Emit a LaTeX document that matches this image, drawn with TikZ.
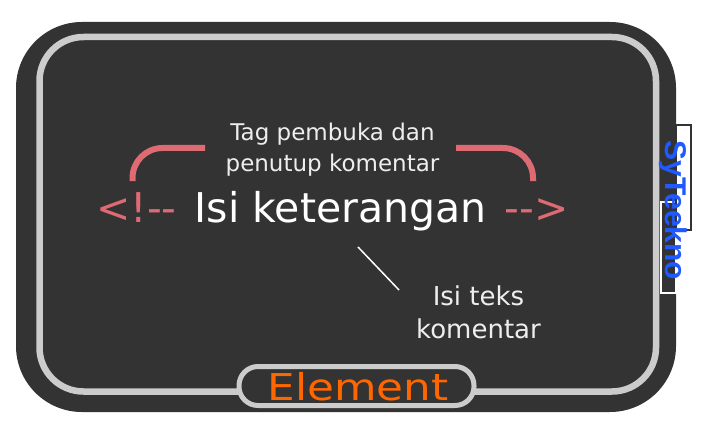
\documentclass[tikz,border=0pt]{standalone}
\usepackage{fontspec}
\newfontfamily\dv{DejaVu Sans}
\newfontfamily\lsb{Liberation Sans}
\definecolor{dark}{HTML}{333333}
\definecolor{lgray}{HTML}{CCCCCC}
\definecolor{pinkc}{RGB}{222,106,115}
\definecolor{txtw}{HTML}{EEEEEE}
\definecolor{orng}{HTML}{FF6600}
\definecolor{blu}{RGB}{30,90,255}
\tikzset{
  lbl/.style={inner sep=0pt, anchor=base, text=txtw},
  big/.style={inner sep=0pt, font=\dv\fontsize{41}{48}\selectfont},
  brk/.style={draw=pinkc, line width=6pt, rounded corners=30pt},
}
\begin{document}
\begin{tikzpicture}[x=1pt,y=-1pt]
\useasboundingbox (0,0) rectangle (708,422);
% frames
\fill[dark, rounded corners=66pt] (16,22) rectangle (676,412);
\draw[lgray, line width=6.5pt, rounded corners=44pt] (39.5,37) rectangle (656,391.5);
\draw[lgray, fill=dark, line width=5pt, rounded corners=19pt] (239,366.5) rectangle (474,405.5);
\draw[white, line width=1.5pt] (661,202) rectangle (676,293);
\draw[dark, line width=1.5pt] (676,125) rectangle (691,230);
% texts
\node[lbl, font=\dv\fontsize{23}{30}\selectfont] (tag1) at (332.5,141) {Tag pembuka dan};
\node[lbl, font=\dv\fontsize{23}{30}\selectfont] (tag2) at (332.5,171) {penutup komentar};
\node[big, anchor=base west, text=pinkc] (open) at (96,222) {<!--};
\node[big, anchor=base, text=white] (main) at (340.5,222) {Isi keterangan};
\node[big, anchor=base east, text=pinkc] (close) at (569,222) {-->};
\node[lbl, font=\dv\fontsize{26}{33}\selectfont] (isi1) at (478.5,305) {Isi teks};
\node[lbl, font=\dv\fontsize{26}{33}\selectfont] (isi2) at (478.5,338) {komentar};
\node[lbl, font=\dv\fontsize{37}{44}\selectfont, text=orng] (elem) at (358,400)
  {\scalebox{1.18}[1]{Element}};
\node[inner sep=0pt, anchor=base, rotate=-90, font=\lsb\bfseries\fontsize{30}{36}\selectfont, text=blu] (sy) at (665,210.5) {SyTeekno};
% brackets
\coordinate (bl1) at (132.5,181);
\coordinate (bl2) at (205,148);
\coordinate (br1) at (456,148);
\coordinate (br2) at (533,181);
\draw[brk] (bl1) |- (bl2);
\draw[brk] (br1) -| (br2);
% pointer
\coordinate (p1) at (358,247);
\coordinate (p2) at (399,290);
\draw[white, line width=1.5pt] (p1) -- (p2);
\end{tikzpicture}
\end{document}
